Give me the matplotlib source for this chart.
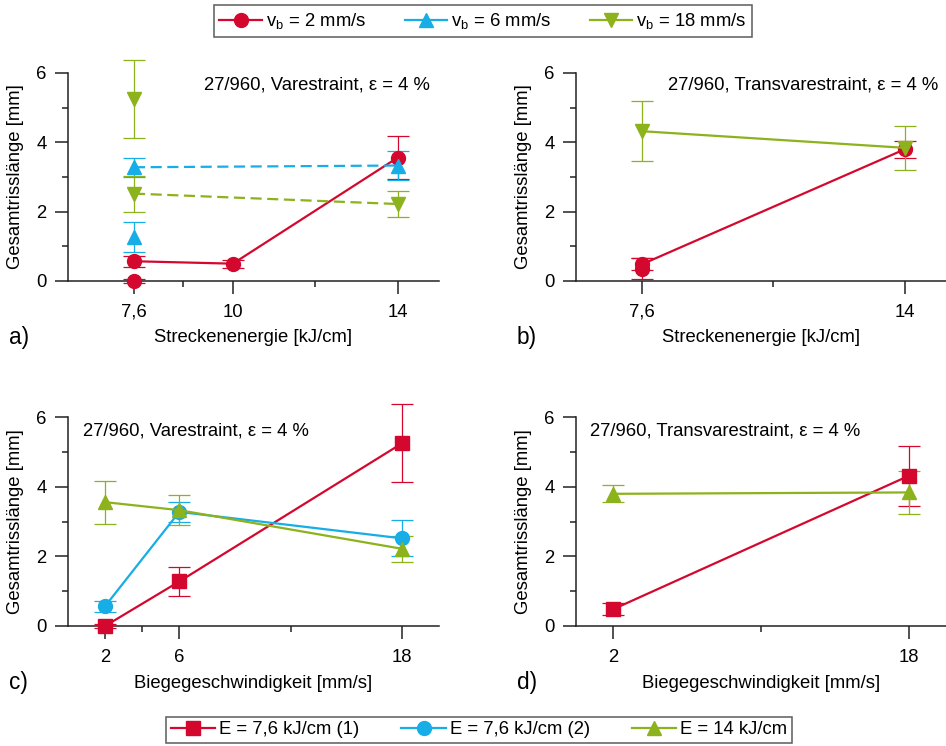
import numpy as np
import matplotlib
matplotlib.use('Agg')
import matplotlib.pyplot as plt
from matplotlib.lines import Line2D

plt.rcParams['font.family'] = ['Liberation Sans', 'DejaVu Sans']
plt.rcParams['mathtext.default'] = 'regular'

# Varestraint, values per bending speed v_b = 2, 6, 18 mm/s
var_vb = [2, 6, 18]
var_e1 = [0.0, 1.28, 5.25]        # E = 7,6 kJ/cm (1)
var_e1_err = [0.05, 0.43, 1.12]
var_e2 = [0.57, 3.28, 2.52]       # E = 7,6 kJ/cm (2)
var_e2_err = [0.16, 0.28, 0.52]
var_e14 = [3.56, 3.33, 2.22]      # E = 14 kJ/cm
var_e14_err = [0.62, 0.43, 0.37]
var_e10_vb2 = 0.50                # E = 10 kJ/cm, only v_b = 2
var_e10_vb2_err = 0.12

# Transvarestraint, v_b = 2, 18 mm/s
trans_vb = [2, 18]
trans_e1 = [0.48, 4.32]
trans_e1_err = [0.17, 0.86]
trans_e2_vb2 = 0.35
trans_e2_vb2_err = 0.30
trans_e14 = [3.80, 3.84]
trans_e14_err = [0.24, 0.63]

red = '#d4082e'
blue = '#17ade6'
green = '#8cb21c'
vb_colors = [red, blue, green]
vb_markers = ['o', '^', 'v']
vb_styles = ['-', (0, (5, 2.5)), (0, (5, 2.5))]
e_colors = [red, blue, green]
e_markers = ['s', 'o', '^']

fs = 13.3
ms = 10


def series(ax, x, y, err, color, marker, ls='-', line=True):
    ax.errorbar(x, y, yerr=err, fmt='none', ecolor=color, elinewidth=0.9,
                capsize=8, capthick=0.9, clip_on=False, zorder=2)
    ax.plot(x, y, color=color, marker=marker, markersize=ms,
            linestyle=ls if line else 'none', lw=1.6, clip_on=False, zorder=3)


def style(ax, xlim, ticks, labels, minor, xlabel, tag):
    ax.set_xlim(*xlim)
    ax.set_ylim(0, 6.5)
    for s in ['top', 'right']:
        ax.spines[s].set_visible(False)
    for s in ['left', 'bottom']:
        ax.spines[s].set_linewidth(1.1)
        ax.spines[s].set_color('#222222')
    ax.spines['left'].set_bounds(0, 6)
    ax.set_yticks([0, 2, 4, 6])
    ax.set_yticks([1, 3, 5], minor=True)
    ax.set_xticks(ticks)
    ax.set_xticklabels(labels)
    ax.set_xticks(minor, minor=True)
    ax.tick_params(which='major', direction='out', length=9.5, width=1.1,
                   labelsize=fs, color='#222222')
    ax.tick_params(axis='x', which='major', pad=7)
    ax.tick_params(axis='y', which='major', pad=6)
    ax.tick_params(which='minor', direction='out', length=4, width=1.1,
                   color='#222222')
    ax.set_ylabel('Gesamtrisslänge [mm]', fontsize=fs)
    ax.yaxis.set_label_coords(-0.118, 3.0 / 6.5)
    ax.set_xlabel(xlabel, fontsize=fs)
    ax.xaxis.set_label_coords(0.5, -0.215)
    ax.text(-0.16, -0.25, tag, transform=ax.transAxes, fontsize=fs + 3,
            va='center', ha='left')


fig = plt.figure(figsize=(9.46, 7.46), dpi=100)
W, H = 946, 746
ax_a = fig.add_axes([68 / W, 1 - 281 / H, 371 / W, 225.4 / H])
ax_b = fig.add_axes([576 / W, 1 - 281 / H, 370 / W, 225.4 / H])
ax_c = fig.add_axes([68 / W, 1 - 626 / H, 371 / W, 226.1 / H])
ax_d = fig.add_axes([576 / W, 1 - 626 / H, 370 / W, 226.1 / H])

# a) Varestraint over Streckenenergie
for i in range(3):
    xs = [7.6, 10, 14] if i == 0 else [7.6, 14]
    ys = [var_e2[i], var_e10_vb2, var_e14[i]] if i == 0 else [var_e2[i], var_e14[i]]
    es = [var_e2_err[i], var_e10_vb2_err, var_e14_err[i]] if i == 0 else [var_e2_err[i], var_e14_err[i]]
    series(ax_a, xs, ys, es, vb_colors[i], vb_markers[i], vb_styles[i])
    series(ax_a, [7.6], [var_e1[i]], [var_e1_err[i]], vb_colors[i], vb_markers[i], line=False)
style(ax_a, (6, 15), [7.6, 10, 14], ['7,6', '10', '14'], [8.8, 12],
      'Streckenenergie [kJ/cm]', 'a)')
ax_a.text(0.976, 5.65, '27/960, Varestraint, ε = 4 %', fontsize=fs,
          transform=ax_a.get_yaxis_transform(), ha='right', va='center')

# b) Transvarestraint over Streckenenergie
series(ax_b, [7.6, 14], [trans_e1[0], trans_e14[0]], [trans_e1_err[0], trans_e14_err[0]], red, 'o')
series(ax_b, [7.6], [trans_e2_vb2], [trans_e2_vb2_err], red, 'o', line=False)
series(ax_b, [7.6, 14], [trans_e1[1], trans_e14[1]], [trans_e1_err[1], trans_e14_err[1]], green, 'v')
style(ax_b, (6, 15), [7.6, 14], ['7,6', '14'], [10.8],
      'Streckenenergie [kJ/cm]', 'b)')
ax_b.text(0.978, 5.65, '27/960, Transvarestraint, ε = 4 %', fontsize=fs,
          transform=ax_b.get_yaxis_transform(), ha='right', va='center')

# c) Varestraint over Biegegeschwindigkeit
for vals, errs, c, m in zip([var_e1, var_e2, var_e14], [var_e1_err, var_e2_err, var_e14_err],
                            e_colors, e_markers):
    series(ax_c, var_vb, vals, errs, c, m)
style(ax_c, (0, 20), var_vb, ['2', '6', '18'], [4, 12],
      'Biegegeschwindigkeit [mm/s]', 'c)')
ax_c.text(0.04, 5.6, '27/960, Varestraint, ε = 4 %', fontsize=fs,
          transform=ax_c.get_yaxis_transform(), ha='left', va='center')

# d) Transvarestraint over Biegegeschwindigkeit
series(ax_d, trans_vb, trans_e1, trans_e1_err, red, 's')
series(ax_d, trans_vb, trans_e14, trans_e14_err, green, '^')
style(ax_d, (0, 20), trans_vb, ['2', '18'], [10],
      'Biegegeschwindigkeit [mm/s]', 'd)')
ax_d.text(0.038, 5.6, '27/960, Transvarestraint, ε = 4 %', fontsize=fs,
          transform=ax_d.get_yaxis_transform(), ha='left', va='center')

# legends
top_h = [Line2D([], [], color=c, marker=m, markersize=ms, lw=1.6)
         for c, m in zip(vb_colors, vb_markers)]
top_l = ['v$_b$ = 2 mm/s', 'v$_b$ = 6 mm/s', 'v$_b$ = 18 mm/s']
leg1 = fig.legend(top_h, top_l, loc='center', bbox_to_anchor=(483 / W, 1 - 21 / H),
                  ncol=3, fontsize=fs, frameon=True, fancybox=False,
                  handlelength=2.3, handletextpad=0.2, columnspacing=2.1,
                  borderpad=0.3, borderaxespad=0)
leg1.get_frame().set_edgecolor('#333333')
leg1.get_frame().set_linewidth(1.1)

bot_h = [Line2D([], [], color=c, marker=m, markersize=ms, lw=1.6)
         for c, m in zip(e_colors, e_markers)]
bot_l = ['E = 7,6 kJ/cm (1)', 'E = 7,6 kJ/cm (2)', 'E = 14 kJ/cm']
leg2 = fig.legend(bot_h, bot_l, loc='center', bbox_to_anchor=(479 / W, 1 - 730 / H),
                  ncol=3, fontsize=fs, frameon=True, fancybox=False,
                  handlelength=2.4, handletextpad=0.2, columnspacing=2.3,
                  borderpad=0.25, borderaxespad=0)
leg2.get_frame().set_edgecolor('#333333')
leg2.get_frame().set_linewidth(1.1)

fig.savefig('out.png', dpi=100)
